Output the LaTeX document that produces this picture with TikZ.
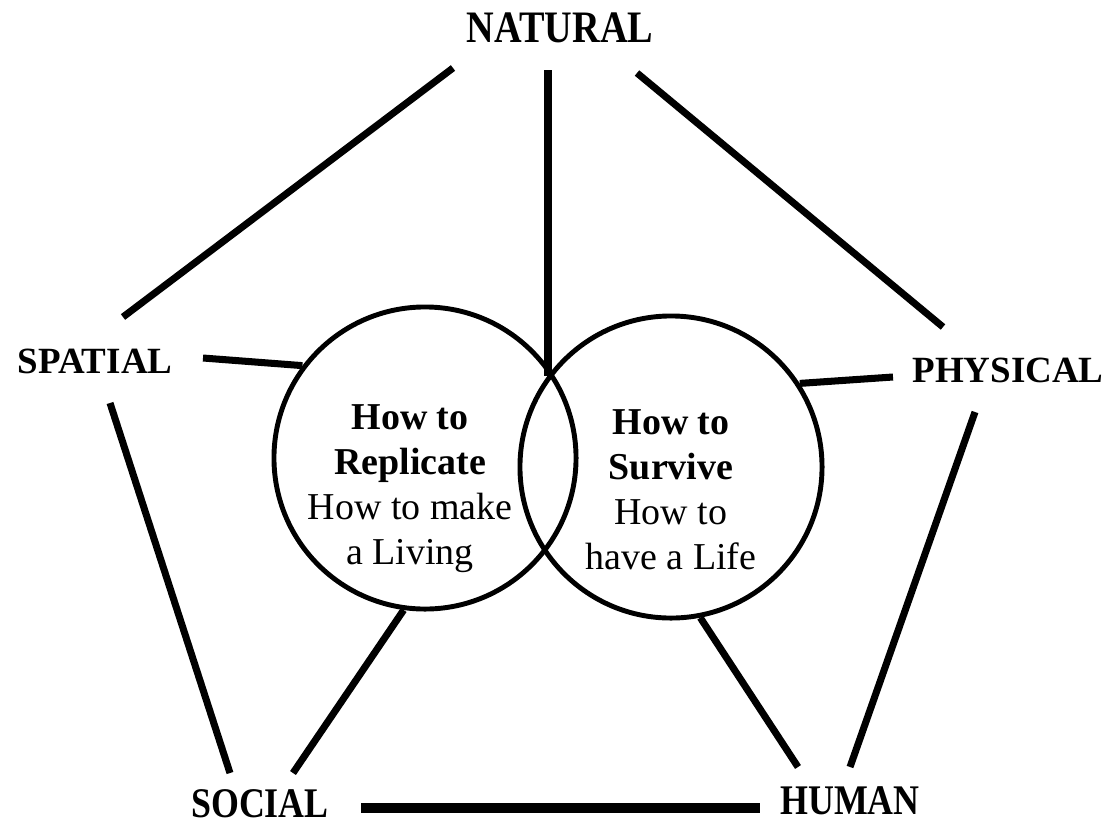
\documentclass[tikz,border=0pt]{standalone}
\usepackage{fontspec}
\setmainfont{Liberation Serif}
\newfontfamily\condfont[FakeStretch=0.85]{Liberation Serif}
\begin{document}
\begin{tikzpicture}[
        x=0.025cm, y=-0.025cm,
        corner/.style={inner sep=0pt, font=\bfseries\fontsize{26.3pt}{30pt}\selectfont},
        tall/.style={inner sep=0pt, font=\condfont\bfseries\fontsize{#1}{#1}\selectfont},
        tall/.default=30pt,
        ring/.style={circle, draw, line width=3.5pt, inner sep=0pt, minimum size=7.55cm},
        inside/.style={inner sep=0pt, align=center, font=\fontsize{27pt}{32pt}\selectfont},
        spoke/.style={line width=5pt}
    ]
        \useasboundingbox (0,0) rectangle (1109,824);

        % The two overlapping circles
        \node[ring] (lc) at (425, 458) {};
        \node[ring] (rc) at (671, 467) {};
        \node[inside] (replicate) at (410, 489) {\textbf{How to}\\\textbf{Replicate}\\How to make\\a Living};
        \node[inside] (survive) at (671, 490) {\textbf{How to}\\\textbf{Survive}\\How to\\have a Life};

        % Corner labels
        \node[tall=32pt, anchor=base] (natural) at (560, 42) {NATURAL};
        \node[corner, anchor=base] (spatial) at (95, 373) {SPATIAL};
        \node[corner, anchor=base] (physical) at (1008, 382) {PHYSICAL};
        \node[tall, anchor=base] (social) at (260, 817) {SOCIAL};
        \node[tall, anchor=base] (human) at (850, 814) {HUMAN};

        % Line ends near the labels
        \coordinate (nat-l) at (453, 68);
        \coordinate (nat-m) at (548, 70);
        \coordinate (nat-r) at (637, 73);
        \coordinate (spa-t) at (123, 317);
        \coordinate (spa-e) at (203, 358);
        \coordinate (spa-b) at (110, 403);
        \coordinate (phy-t) at (943, 327);
        \coordinate (phy-w) at (893, 377);
        \coordinate (phy-b) at (975, 412);
        \coordinate (soc-l) at (230, 773);
        \coordinate (soc-r) at (293, 773);
        \coordinate (soc-e) at (361, 808);
        \coordinate (hum-l) at (798, 767);
        \coordinate (hum-r) at (850, 767);
        \coordinate (hum-w) at (760, 808);
        \coordinate (meet) at (548, 376);

        % Pentagon sides
        \draw[spoke] (nat-l) -- (spa-t);
        \draw[spoke] (nat-r) -- (phy-t);
        \draw[spoke] (spa-b) -- (soc-l);
        \draw[spoke] (phy-b) -- (hum-r);
        \draw[line width=7pt] (soc-e) -- (hum-w);

        % Spokes into the circles
        \draw[spoke] (nat-m) -- (meet);
        \draw[spoke] (spa-e) -- (lc.143);
        \draw[spoke] (phy-w) -- (rc.33);
        \draw[spoke] (lc.262) -- (soc-r);
        \draw[spoke] (rc.281) -- (hum-l);

    \end{tikzpicture}
\end{document}
